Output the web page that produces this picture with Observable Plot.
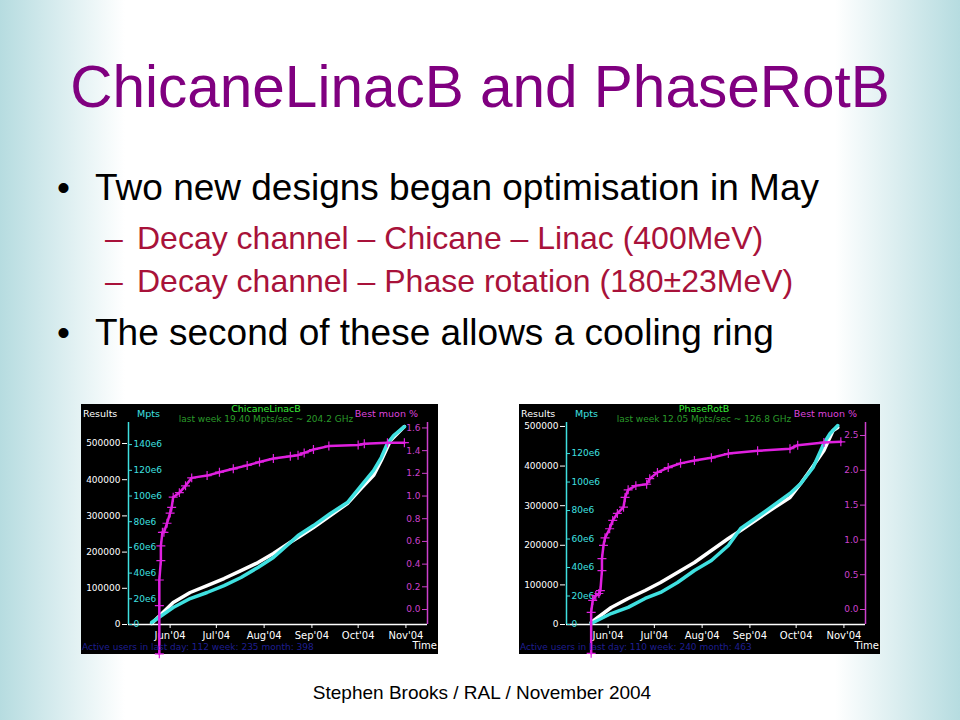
<!DOCTYPE html>
<html><head><meta charset="utf-8">
<script src="https://cdn.jsdelivr.net/npm/d3@7"></script>
<script src="https://cdn.jsdelivr.net/npm/@observablehq/plot@0.6"></script>
<style>
html,body{margin:0;padding:0;}
body{width:960px;height:720px;position:relative;overflow:hidden;font-family:"Liberation Sans",Arial,sans-serif;
background:linear-gradient(to right,#b6dce0 0%,#ffffff 13%,#ffffff 87%,#b6dce0 100%);}
.abs{position:absolute;white-space:nowrap;line-height:1;}
.chart{position:absolute;background:#000;}
.chart svg{position:absolute;left:0;top:0;}
.ct{position:absolute;white-space:nowrap;line-height:1;font-family:"DejaVu Sans",sans-serif;font-size:9.5px;}
</style></head><body>
<div class="abs" style="left:0;width:960px;text-align:center;top:58px;font-size:58.5px;color:#800080;">ChicaneLinacB and PhaseRotB</div>
<div class="abs" style="left:57px;top:169px;font-size:37px;color:#000;">•</div>
<div class="abs" style="left:95px;top:169px;font-size:37px;color:#000;">Two new designs began optimisation in May</div>
<div class="abs" style="left:105px;top:222px;font-size:32px;color:#a8123a;">–</div>
<div class="abs" style="left:137px;top:222px;font-size:32px;color:#a8123a;">Decay channel – Chicane – Linac (400MeV)</div>
<div class="abs" style="left:105px;top:265px;font-size:32px;color:#a8123a;">–</div>
<div class="abs" style="left:137px;top:265px;font-size:32px;color:#a8123a;">Decay channel – Phase rotation (180±23MeV)</div>
<div class="abs" style="left:57px;top:314px;font-size:37px;color:#000;">•</div>
<div class="abs" style="left:95px;top:314px;font-size:37px;color:#000;">The second of these allows a cooling ring</div>
<div class="abs" style="left:0;width:964px;text-align:center;top:683px;font-size:19px;color:#000;">Stephen Brooks / RAL / November 2004</div>

<div class="chart" id="c1" style="left:81px;top:404px;width:357px;height:250px;"></div>
<div class="chart" id="c2" style="left:519px;top:404px;width:361px;height:250px;"></div>

<script>
// ---------- shared axis data ----------
const xDomainStr = ["2004-05-05", "2004-11-15"];
const monthTicks = ["2004-06-01","2004-07-01","2004-08-01","2004-09-01","2004-10-01","2004-11-01"];

// ---------- ChicaneLinacB ----------
const clTitle = "ChicaneLinacB";
const clSub = "last week 19.40 Mpts/sec ~ 204.2 GHz";
const clUsers = "Active users in last day: 112 week: 235 month: 398";
const clResultsDates = ["2004-05-20","2004-06-03","2004-06-14","2004-06-25","2004-07-06","2004-07-17","2004-07-28","2004-08-07","2004-08-18","2004-08-23","2004-09-02","2004-09-13","2004-09-24","2004-10-03","2004-10-11","2004-10-16","2004-10-22","2004-10-31"];
const clResults = [3000,60800,88400,107700,127000,149000,171000,196000,227000,240000,268000,301000,334000,376000,412000,453000,508000,547000];
const clMptsDates = ["2004-05-20","2004-06-03","2004-06-14","2004-06-25","2004-07-06","2004-07-17","2004-07-28","2004-08-07","2004-08-18","2004-08-23","2004-09-02","2004-09-13","2004-09-24","2004-10-03","2004-10-11","2004-10-16","2004-10-20","2004-10-24","2004-10-31"];
const clMpts = [1.6e6,13.2e6,20.2e6,24.9e6,30.3e6,36.6e6,44.4e6,52.1e6,63.8e6,69.2e6,77.0e6,86.4e6,94.9e6,108.1e6,119.8e6,129.9e6,140.8e6,147.0e6,154.0e6];
const clMuonDates = ["2004-05-25","2004-05-25","2004-05-25","2004-05-26","2004-05-26","2004-05-27","2004-05-28","2004-05-30","2004-06-01","2004-06-02","2004-06-03","2004-06-07","2004-06-11","2004-06-15","2004-06-25","2004-07-03","2004-07-12","2004-07-21","2004-07-29","2004-08-07","2004-08-18","2004-08-23","2004-08-27","2004-09-02","2004-09-12","2004-10-01","2004-10-05","2004-10-20","2004-10-31"];
const clMuon = [-0.39,0.035,0.26,0.43,0.56,0.68,0.68,0.76,0.85,0.90,0.99,1.03,1.09,1.16,1.18,1.21,1.24,1.27,1.30,1.33,1.35,1.36,1.38,1.41,1.44,1.45,1.46,1.47,1.47];
const clResTicks = [0,100000,200000,300000,400000,500000];
const clMptsTicks = [0,20e6,40e6,60e6,80e6,100e6,120e6,140e6];
const clMuonTicks = [0,0.2,0.4,0.6,0.8,1.0,1.2,1.4,1.6];

// ---------- PhaseRotB ----------
const prTitle = "PhaseRotB";
const prSub = "last week 12.05 Mpts/sec ~ 126.8 GHz";
const prUsers = "Active users in last day: 110 week: 240 month: 463";
const prResultsDates = ["2004-05-21","2004-06-03","2004-06-14","2004-06-25","2004-07-05","2004-07-16","2004-07-27","2004-08-07","2004-08-18","2004-08-26","2004-09-14","2004-09-27","2004-10-04","2004-10-10","2004-10-19","2004-10-25","2004-10-28"];
const prResults = [5000,42900,65700,85900,106000,131300,156600,186900,217200,237400,287900,320700,356100,388900,439400,489900,497500];
const prMptsDates = ["2004-05-21","2004-06-03","2004-06-14","2004-06-25","2004-07-05","2004-07-16","2004-07-27","2004-08-07","2004-08-18","2004-08-26","2004-09-09","2004-09-27","2004-10-04","2004-10-12","2004-10-19","2004-10-23","2004-10-28"];
const prMpts = [0.7e6,7.7e6,12.0e6,18.3e6,22.5e6,29.5e6,37.9e6,44.9e6,55.5e6,67.4e6,77.9e6,92.0e6,99.0e6,110.2e6,127.1e6,134.1e6,139.7e6];
const prMuonDates = ["2004-05-21","2004-05-21","2004-05-22","2004-05-24","2004-05-26","2004-05-27","2004-05-28","2004-05-28","2004-05-29","2004-05-30","2004-06-02","2004-06-04","2004-06-07","2004-06-11","2004-06-12","2004-06-14","2004-06-19","2004-06-26","2004-06-28","2004-07-03","2004-07-10","2004-07-18","2004-07-27","2004-08-07","2004-08-18","2004-09-06","2004-09-27","2004-10-02","2004-10-19","2004-10-30"];
const prMuon = [-0.63,-0.04,0.13,0.20,0.23,0.27,0.56,0.73,0.92,1.03,1.16,1.28,1.38,1.47,1.61,1.72,1.78,1.80,1.88,1.97,2.04,2.10,2.14,2.18,2.24,2.28,2.31,2.36,2.40,2.41];
const prResTicks = [0,100000,200000,300000,400000,500000];
const prMptsTicks = [0,20e6,40e6,60e6,80e6,100e6,120e6];
const prMuonTicks = [0,0.5,1.0,1.5,2.0,2.5];

const WHITE = "#ffffff", CYAN = "#3fe0e0", MAG = "#e020e0", MAGAX = "#cc40cc";
const xDomain = xDomainStr.map(d => new Date(d));
const monthTickDates = monthTicks.map(d => new Date(d));
const zip = (dates, vals) => dates.map((d, i) => ({date: new Date(d), value: vals[i]}));

function drawChart(el, cfg) {
  const W = cfg.width, H = 250, ml = 47, mr = cfg.marginRight, mt = 18, mb = 30;
  const plotW = W - ml - mr;
  const base = (yDomain) => ({
    width: W, height: H, marginLeft: ml, marginRight: mr, marginTop: mt, marginBottom: mb,
    style: {background: "none", fontFamily: "DejaVu Sans, sans-serif", fontSize: "9px", overflow: "visible"},
    x: {type: "utc", domain: xDomain, axis: null},
    y: {domain: yDomain, axis: null}
  });
  const res = zip(cfg.resDates, cfg.res);
  const mp = zip(cfg.mptsDates, cfg.mpts);
  const mu = zip(cfg.muonDates, cfg.muon);

  const pRes = Plot.plot({...base(cfg.resDomain), marks: [
    Plot.axisY({ticks: cfg.resTicks, tickFormat: d => String(d), tickSize: 5, tickPadding: 2, dx: -1, stroke: WHITE, fill: WHITE, label: null}),
    Plot.axisX({ticks: monthTickDates, tickFormat: d3.utcFormat("%b'%y"), tickSize: 4, tickPadding: 3, stroke: WHITE, fill: WHITE, label: null, fontSize: 10}),
    Plot.ruleY([0], {stroke: WHITE, strokeWidth: 1.5}),
    Plot.line(res, {x: "date", y: "value", stroke: WHITE, strokeWidth: 3.5})
  ]});
  const pMp = Plot.plot({...base(cfg.mptsDomain), marks: [
    Plot.ruleX([xDomain[0]], {stroke: CYAN, strokeWidth: 1.5}),
    Plot.axisY({anchor: "right", dx: -plotW, ticks: cfg.mptsTicks, tickFormat: d => d === 0 ? "0" : (d / 1e6) + "e6", tickSize: 3, tickPadding: 2, stroke: CYAN, fill: CYAN, label: null}),
    Plot.line(mp, {x: "date", y: "value", stroke: CYAN, strokeWidth: 3.5})
  ]});
  const pMu = Plot.plot({...base(cfg.muonDomain), marks: [
    Plot.ruleX([xDomain[1]], {stroke: MAGAX, strokeWidth: 1.5}),
    Plot.axisY({anchor: "left", dx: plotW, ticks: cfg.muonTicks, tickFormat: d3.format(".1f"), tickSize: 5, tickPadding: 2, stroke: MAGAX, fill: MAGAX, label: null}),
    Plot.line(mu, {x: "date", y: "value", stroke: MAG, strokeWidth: 2.5}),
    Plot.dot(mu, {x: "date", y: "value", symbol: "plus", r: 3, stroke: MAG, strokeWidth: 1.2})
  ]});
  el.append(pRes, pMp, pMu);

  const addText = (txt, style) => {
    const d = document.createElement("div");
    d.className = "ct"; d.textContent = txt;
    Object.assign(d.style, style);
    el.appendChild(d);
  };
  addText("Results", {left: "2px", top: "5px", color: WHITE});
  addText("Mpts", {left: "56px", top: "5px", color: CYAN});
  addText(cfg.title, {left: "0px", width: (cfg.center * 2) + "px", textAlign: "center", top: "0px", color: "#39e839"});
  addText(cfg.sub, {left: "0px", width: (cfg.center * 2) + "px", textAlign: "center", top: "11px", color: "#2a9a2a", fontSize: "9px"});
  addText("Best muon %", {right: (W - cfg.muonRight) + "px", top: "5px", color: "#dd44dd"});
  addText("Time", {right: "1px", top: "237px", color: WHITE, fontSize: "10px"});
  addText(cfg.users, {left: "1px", top: "239px", color: "#1e1e90", fontSize: "9px"});
}

drawChart(document.getElementById("c1"), {
  width: 357, marginRight: 11, center: 185, muonRight: 337,
  title: clTitle, sub: clSub, users: clUsers,
  resDates: clResultsDates, res: clResults, resDomain: [0, 558000], resTicks: clResTicks,
  mptsDates: clMptsDates, mpts: clMpts, mptsDomain: [0, 157.2e6], mptsTicks: clMptsTicks,
  muonDates: clMuonDates, muon: clMuon, muonDomain: [-0.132, 1.648], muonTicks: clMuonTicks
});
drawChart(document.getElementById("c2"), {
  width: 361, marginRight: 15, center: 185, muonRight: 338,
  title: prTitle, sub: prSub, users: prUsers,
  resDates: prResultsDates, res: prResults, resDomain: [0, 510000], resTicks: prResTicks,
  mptsDates: prMptsDates, mpts: prMpts, mptsDomain: [0, 141.8e6], mptsTicks: prMptsTicks,
  muonDates: prMuonDates, muon: prMuon, muonDomain: [-0.2155, 2.687], muonTicks: prMuonTicks
});
</script>
</body></html>
